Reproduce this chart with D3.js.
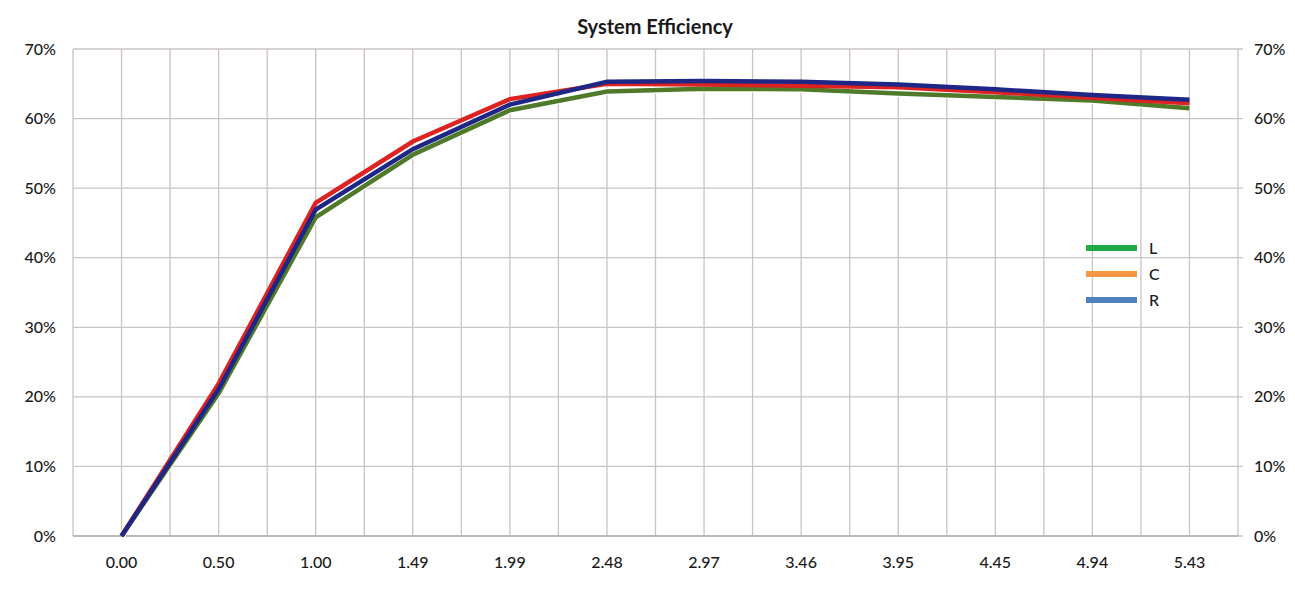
<!DOCTYPE html>
<html>
<head>
<meta charset="utf-8">
<script src="https://cdn.jsdelivr.net/npm/d3@7"></script>
<style>
  body { margin: 0; background: #fff; }
  text { font-family: Lato, "Open Sans", sans-serif; fill: #1a1a1a; font-weight: 500; }
</style>
</head>
<body>
<svg width="1295" height="595"></svg>
<script>
// categories along the bottom
const categories = ["0.00", "0.50", "1.00", "1.49", "1.99", "2.48", "2.97", "3.46", "3.95", "4.45", "4.94", "5.43"];

// efficiency values per series (fraction)
const seriesL = [0, 0.205, 0.458, 0.548, 0.612, 0.639, 0.643, 0.642, 0.636, 0.631, 0.626, 0.615];
const seriesC = [0, 0.219, 0.479, 0.567, 0.628, 0.650, 0.649, 0.647, 0.645, 0.638, 0.630, 0.622];
const seriesR = [0, 0.211, 0.469, 0.556, 0.620, 0.653, 0.654, 0.653, 0.649, 0.642, 0.634, 0.627];

const yTicks = [0, 0.1, 0.2, 0.3, 0.4, 0.5, 0.6, 0.7];

const legendNames = ["L", "C", "R"];

var svg = d3.select("svg");
var plotLeft = 73, plotRight = 1238, plotTop = 49, plotBottom = 536;

var xBand = d3.scaleBand().domain(categories).range([plotLeft, plotRight]).paddingInner(0).paddingOuter(0);
var bw = xBand.bandwidth();
var x = d => xBand(d) + bw / 2;
var y = d3.scaleLinear().domain([0, 0.7]).range([plotBottom, plotTop]);

var gridColor = "#cbc2c2";

// vertical grid lines, at every category and between them
var vx = [];
categories.forEach(c => { vx.push(xBand(c)); vx.push(x(c)); });
vx.push(plotRight);
svg.append("g").selectAll("line")
  .data(vx)
  .enter().append("line")
  .attr("x1", d => d).attr("x2", d => d)
  .attr("y1", plotTop).attr("y2", plotBottom)
  .attr("stroke", gridColor).attr("stroke-width", 1.3);

// horizontal grid lines, running slightly past the right edge (tick marks)
svg.append("g").selectAll("line")
  .data(yTicks)
  .enter().append("line")
  .attr("x1", plotLeft).attr("x2", plotRight + 5)
  .attr("y1", d => y(d)).attr("y2", d => y(d))
  .attr("stroke", gridColor).attr("stroke-width", 1.3);

// bottom axis line
svg.append("line")
  .attr("x1", plotLeft).attr("x2", plotRight)
  .attr("y1", plotBottom).attr("y2", plotBottom)
  .attr("stroke", "#b8aeae").attr("stroke-width", 1.5);

// left and right axis labels
var fmt = d3.format(".0%");
svg.append("g").selectAll("text")
  .data(yTicks)
  .enter().append("text")
  .attr("x", 56).attr("y", d => y(d))
  .attr("dy", "0.35em")
  .attr("text-anchor", "end")
  .style("font-size", "16px")
  .text(fmt);

svg.append("g").selectAll("text")
  .data(yTicks)
  .enter().append("text")
  .attr("x", 1254).attr("y", d => y(d))
  .attr("dy", "0.35em")
  .attr("text-anchor", "start")
  .style("font-size", "16px")
  .text(fmt);

// category labels
svg.append("g").selectAll("text")
  .data(categories)
  .enter().append("text")
  .attr("x", d => x(d)).attr("y", 562)
  .attr("dy", "0.35em")
  .attr("text-anchor", "middle")
  .style("font-size", "16px")
  .text(d => d);

// title
svg.append("text")
  .attr("x", 655).attr("y", 34)
  .attr("text-anchor", "middle")
  .style("font-size", "20px")
  .style("font-weight", "bold")
  .text("System Efficiency");

// lines (drawn colours differ from the legend swatches, as in the original)
var lineGen = d3.line()
  .x((d, i) => x(categories[i]))
  .y(d => y(d));

var drawn = [
  {values: seriesL, color: "#4e7a2a", casing: true},
  {values: seriesC, color: "#dd2222", casing: false},
  {values: seriesR, color: "#1e2686", casing: false}
];

drawn.forEach(function (s) {
  if (s.casing) {
    svg.append("path")
      .attr("d", lineGen(s.values))
      .attr("fill", "none")
      .attr("stroke", "#fff")
      .attr("stroke-width", 7)
      .attr("stroke-linejoin", "round");
  }
  svg.append("path")
    .attr("d", lineGen(s.values))
    .attr("fill", "none")
    .attr("stroke", s.color)
    .attr("stroke-width", 4.5)
    .attr("stroke-linejoin", "miter");
});

// legend
var legendColors = ["#22a94b", "#f79646", "#4f81bd"];
var lg = svg.append("g").attr("transform", "translate(1086,248)");
var item = lg.selectAll("g")
  .data(legendNames)
  .enter().append("g")
  .attr("transform", (d, i) => `translate(0,${i * 26})`);
item.append("line")
  .attr("x1", 0).attr("x2", 51)
  .attr("y1", 0).attr("y2", 0)
  .attr("stroke", (d, i) => legendColors[i])
  .attr("stroke-width", 6);
item.append("text")
  .attr("x", 63).attr("y", 0)
  .attr("dy", "0.35em")
  .style("font-size", "16px")
  .text(d => d);
</script>
</body>
</html>
